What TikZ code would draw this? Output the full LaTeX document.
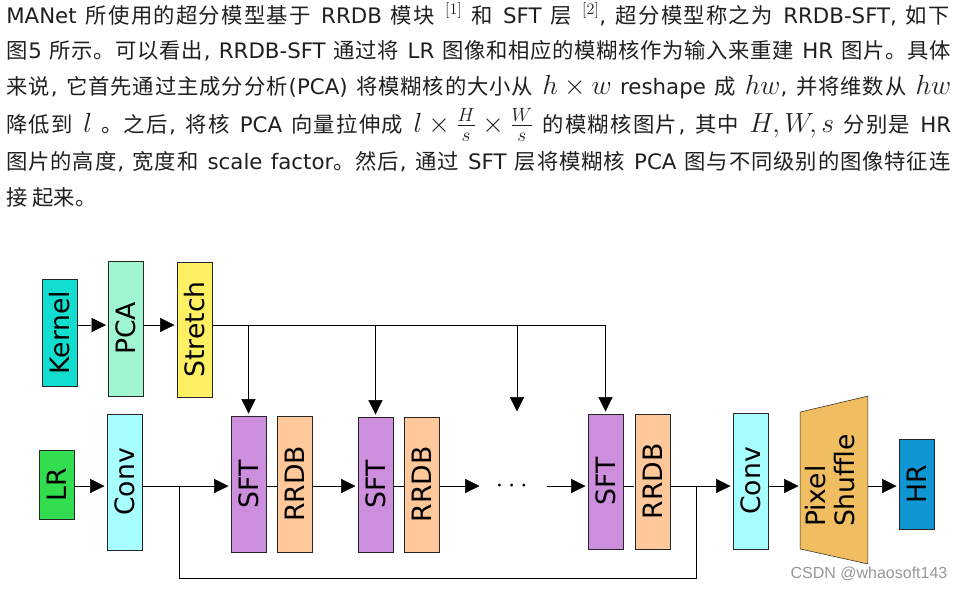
\documentclass[tikz,border=0pt]{standalone}
\usepackage[no-math]{fontspec}
\setmainfont{DejaVu Sans}
\newfontfamily\zhfont{Noto Sans CJK SC}
\newfontfamily\wmfont{Liberation Sans}
\usepackage{graphicx}
\usepackage{xcolor}
\usepackage{amssymb,amsmath}
\usetikzlibrary{backgrounds}
\usetikzlibrary{shapes,arrows,arrows.meta}
\usetikzlibrary{positioning}
\makeatletter
\def\zh#1{{\zhfont\zh@loop#1\zh@end}}
\def\zh@end{\zh@end}
\def\zh@loop#1{\ifx#1\zh@end\else#1\hskip0pt plus 1.5pt\relax\expandafter\zh@loop\fi}
\makeatother
\newcommand\mth[1]{\mbox{\fontsize{21}{22}\selectfont$#1$}}
\newcommand\refmark[1]{\mbox{\fontsize{17}{18}\selectfont$^{[#1]}$}}
\definecolor{kernc}{RGB}{18,222,208}
\definecolor{pcac}{RGB}{160,246,208}
\definecolor{strc}{RGB}{255,240,100}
\definecolor{lrc}{RGB}{50,222,80}
\definecolor{convc}{RGB}{168,255,255}
\definecolor{sftc}{RGB}{205,142,222}
\definecolor{rrdbc}{RGB}{255,200,155}
\definecolor{psc}{RGB}{240,190,96}
\definecolor{hrc}{RGB}{16,150,210}
\definecolor{wmc}{RGB}{150,150,150}
\begin{document}
\begin{tikzpicture}[x=0.75pt,y=-0.75pt]
\useasboundingbox (0,0) rectangle (964,590);

% paragraph above the figure
\def\lw{708.75pt}
\tikzstyle{txt} = [anchor=base west, inner sep=0, text=black!88,
	font=\fontsize{16}{20}\selectfont];
\node[txt] (ln1) at (6,23) {\makebox[\lw][s]{MANet \zh{所使用的超分模型基于} RRDB \zh{模块} \refmark{1} \zh{和} SFT \zh{层} \refmark{2}, \zh{超分模型称之为} RRDB-SFT, \zh{如下}}};
\node[txt] (ln2) at (6,58.5) {\makebox[\lw][s]{\zh{图}5 \zh{所示。可以看出}, RRDB-SFT \zh{通过将} LR \zh{图像和相应的模糊核作为输入来重建} HR \zh{图片。具体}}};
\node[txt] (ln3) at (6,94) {\makebox[\lw][s]{\zh{来说}, \zh{它首先通过主成分分析}(PCA) \zh{将模糊核的大小从} \mth{h \times w} reshape \zh{成} \mth{hw}, \zh{并将维数从} \mth{hw}}};
\node[txt] (ln4) at (6,132) {\makebox[\lw][s]{\zh{降低到} \mth{l} \zh{。之后}, \zh{将核} PCA \zh{向量拉伸成} \mth{l \times \frac{H}{s} \times \frac{W}{s}} \zh{的模糊核图片}, \zh{其中} \mth{H, W, s} \zh{分别是} HR}};
\node[txt] (ln5) at (6,169) {\makebox[\lw][s]{\zh{图片的高度}, \zh{宽度和} scale factor\zh{。然后}, \zh{通过} SFT \zh{层将模糊核} PCA \zh{图与不同级别的图像特征连}}};
\node[txt] (ln6) at (6,205) {{\zhfont 接 起来。}};

% figure
\tikzset{>={Triangle[length=12.5pt,width=12pt]}, line width=1.4pt}
\def\bw{26.25pt}
\tikzstyle{block} = [
	draw=black!85, rectangle, inner sep=0,
	minimum width=\bw, font=\fontsize{20}{21}\selectfont ];
\tikzstyle{plain} = [draw=none,fill=none];

\coordinate (top) at (0,325);
\coordinate (mid) at (0,486);

\node[block,fill=kernc,minimum height=80.25pt] (kern) at (59.5,332.5) {\rotatebox{90}{Kernel}};
\node[block,fill=pcac,minimum height=101.25pt] (pca) at (126,328.5) {\rotatebox{90}{PCA}};
\node[block,fill=strc,minimum height=101.25pt] (strch) at (194.5,329.5) {\rotatebox{90}{Stretch}};

\node[block,fill=lrc,minimum height=51.75pt] (lr) at (56.5,484.5) {\rotatebox{90}{LR}};
\node[block,fill=convc,minimum height=102pt] (conv1) at (124.5,482) {\rotatebox{90}{Conv}};
\node[block,fill=sftc,minimum height=102pt] (sft1) at (248.5,484) {\rotatebox{90}{SFT}};
\node[block,fill=rrdbc,minimum height=102pt] (rrdb1) at (295,484) {\rotatebox{90}{RRDB}};
\node[block,fill=sftc,minimum height=101.25pt] (sft2) at (375.5,484.5) {\rotatebox{90}{SFT}};
\node[block,fill=rrdbc,minimum height=101.25pt] (rrdb2) at (422,484.5) {\rotatebox{90}{RRDB}};
\node[plain,inner sep=0,minimum width=48pt] (dots) at (514,486) {\mbox{\fontsize{20}{20}\selectfont$\cdots$}};
\node[block,fill=sftc,minimum height=101.25pt] (sft3) at (605.5,481.5) {\rotatebox{90}{SFT}};
\node[block,fill=rrdbc,minimum height=101.25pt] (rrdb3) at (652.5,481.5) {\rotatebox{90}{RRDB}};
\node[block,fill=convc,minimum height=102pt] (conv2) at (750.5,481) {\rotatebox{90}{Conv}};
\node[block,plain,minimum width=49.5pt,minimum height=101.25pt] (ps) at (834,480.5)
	{\rotatebox{90}{\begin{tabular}{@{}l@{}}Pixel\\Shuffle\end{tabular}}};
\node[block,fill=hrc,minimum height=67.5pt] (hr) at (916.5,484) {\rotatebox{90}{HR}};

\begin{scope}[on background layer]
\draw[fill=psc,draw=black!85] (ps.north west) -- ([yshift=12pt]ps.north east)
	-- ([yshift=-11.25pt]ps.south east) -- (ps.south west) -- cycle;
\end{scope}

% kernel branch
\draw[->] (kern.east |- top) -- (pca.west |- top);
\draw[->] (pca.east |- top) -- (strch.west |- top);
\draw[->] (strch.east |- top) -| (sft3.north);
\draw[->] (sft1.north |- top) -- (sft1.north);
\draw[->] (sft2.north |- top) -- (sft2.north);
\coordinate (gap) at (517,413);
\draw[->] (gap |- top) -- (gap);

% image branch
\draw[->] (lr.east |- mid) -- (conv1.west |- mid);
\draw[->] (conv1.east |- mid) -- (sft1.west |- mid);
\draw (sft1.east |- mid) -- (rrdb1.west |- mid);
\draw[->] (rrdb1.east |- mid) -- (sft2.west |- mid);
\draw (sft2.east |- mid) -- (rrdb2.west |- mid);
\draw[->] (rrdb2.east |- mid) -- (dots.west);
\draw[->] (dots.east) -- (sft3.west |- mid);
\draw (sft3.east |- mid) -- (rrdb3.west |- mid);
\draw[->] (rrdb3.east |- mid) -- (conv2.west |- mid);
\draw[->] (conv2.east |- mid) -- (ps.west |- mid);
\draw[->] (ps.east |- mid) -- (hr.west |- mid);

% skip connection
\coordinate (sk1) at (179,486);
\coordinate (sk2) at (696,486);
\draw (sk1) -- ++(0,92) -| (sk2);

\node[text=wmc,inner sep=0,font=\wmfont\fontsize{12}{12}\selectfont] (wm) at (869,574) {CSDN @whaosoft143};
\end{tikzpicture}
\end{document}
